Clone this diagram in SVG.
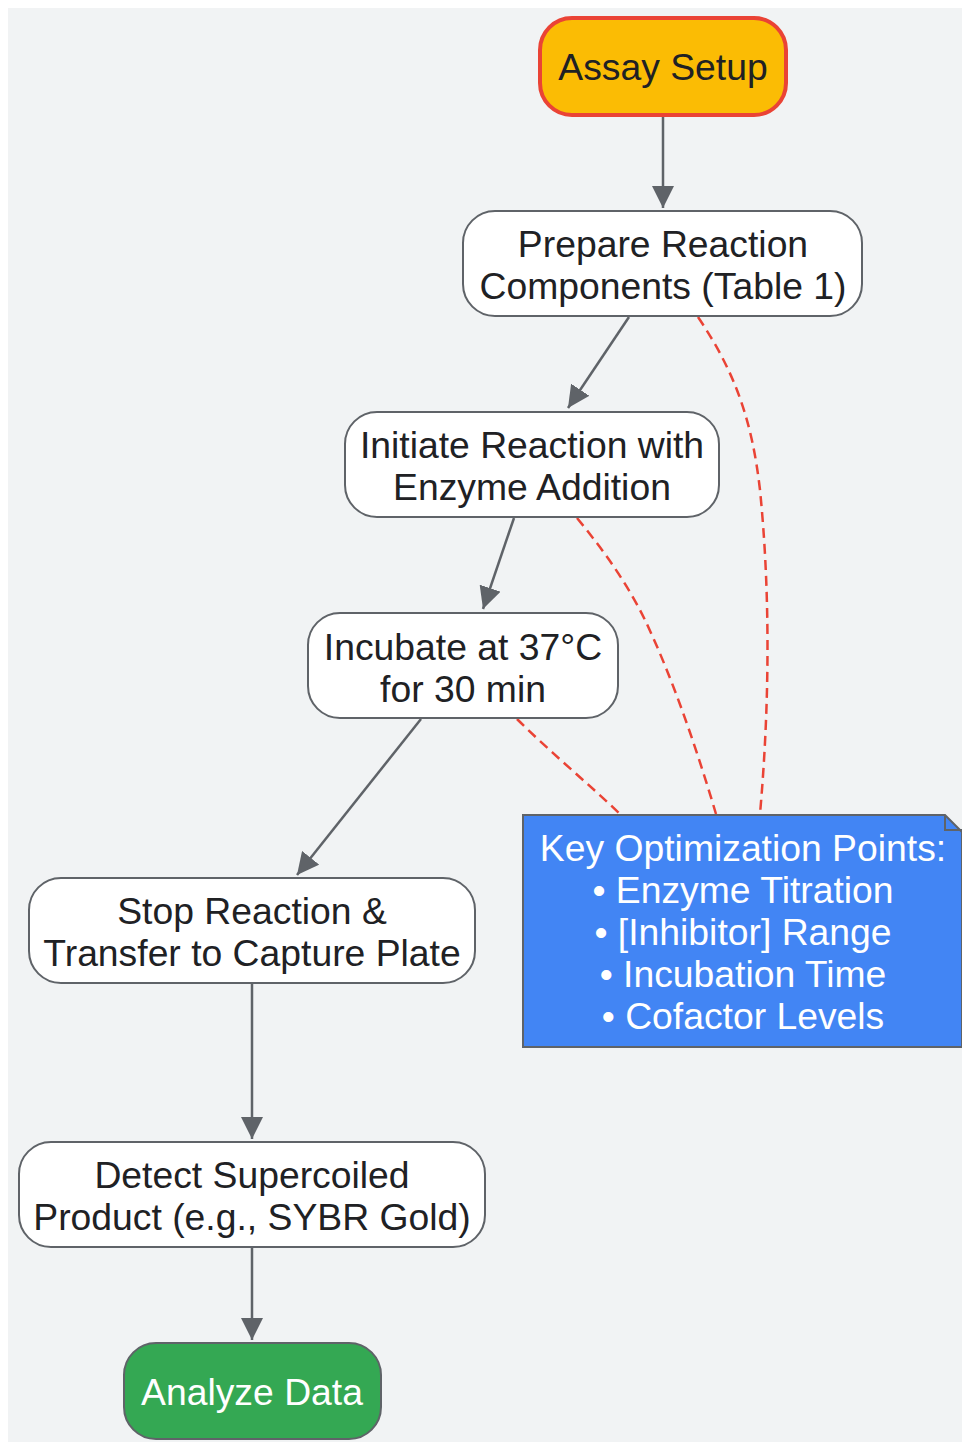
<svg xmlns="http://www.w3.org/2000/svg" width="962" height="1442" viewBox="0 0 962 1442">
<defs>
<style>
.node rect{fill:#FFFFFF;stroke:#5F6368;stroke-width:2}
text{font-family:"Liberation Sans",Arial,sans-serif;font-size:37.3px;fill:#202124;text-anchor:middle;dominant-baseline:central}
.edge{fill:none;stroke:#5F6368;stroke-width:2.5}
.dash{fill:none;stroke:#EA4335;stroke-width:2.5;stroke-dasharray:10,6}
.white{fill:#FFFFFF}
</style>
<marker id="arr" viewBox="0 0 20 20" refX="20" refY="10" markerWidth="22" markerHeight="22" markerUnits="userSpaceOnUse" orient="auto">
<path d="M0,0 L20,10 L0,20 Z" fill="#5F6368"/>
</marker>
</defs>
<rect x="8" y="8" width="954" height="1434" fill="#F1F3F4"/>
<g id="connectors">
<path class="edge" d="M663,116 L663,208" marker-end="url(#arr)"/>
<path class="edge" d="M629,317 L568,408" marker-end="url(#arr)"/>
<path class="edge" d="M514,518 L483,609" marker-end="url(#arr)"/>
<path class="edge" d="M421,719 L297,875" marker-end="url(#arr)"/>
<path class="edge" d="M252,984 L252,1139" marker-end="url(#arr)"/>
<path class="edge" d="M252,1248 L252,1340" marker-end="url(#arr)"/>
<path class="dash" d="M698,317 C735,372 752,420 760,490 C770,590 770,700 760,814"/>
<path class="dash" d="M577,518 C605,552 628,585 645,620 C675,683 700,760 716,814"/>
<path class="dash" d="M517,719 C550,752 590,785 620,814"/>
</g>
<g id="assay-setup">
<rect x="540" y="18" width="246" height="97" rx="32" fill="#FBBC04" stroke="#EA4335" stroke-width="4"/>
<text x="663" y="67">Assay Setup</text>
</g>
<g id="prepare" class="node">
<rect x="463" y="211" width="399" height="105" rx="32"/>
<text x="663" y="244">Prepare Reaction</text>
<text x="663" y="286">Components (Table 1)</text>
</g>
<g id="initiate" class="node">
<rect x="345" y="412" width="374" height="105" rx="32"/>
<text x="532" y="445">Initiate Reaction with</text>
<text x="532" y="487">Enzyme Addition</text>
</g>
<g id="incubate" class="node">
<rect x="308" y="613" width="310" height="105" rx="32"/>
<text x="463" y="647">Incubate at 37°C</text>
<text x="463" y="689">for 30 min</text>
</g>
<g id="stop" class="node">
<rect x="29" y="878" width="446" height="105" rx="32"/>
<text x="252" y="911">Stop Reaction &amp;</text>
<text x="252" y="953">Transfer to Capture Plate</text>
</g>
<g id="detect" class="node">
<rect x="19" y="1142" width="466" height="105" rx="32"/>
<text x="252" y="1175">Detect Supercoiled</text>
<text x="252" y="1217">Product (e.g., SYBR Gold)</text>
</g>
<g id="analyze">
<rect x="124" y="1343" width="257" height="96" rx="32" fill="#34A853" stroke="#5F6368" stroke-width="2"/>
<text x="252" y="1392" class="white">Analyze Data</text>
</g>
<g id="note">
<path d="M523,815 L945,815 L962,832 L962,1047 L523,1047 Z" fill="#4285F4" stroke="#5F6368" stroke-width="2"/>
<path d="M945,815 L945,830 L962,830" fill="none" stroke="#5F6368" stroke-width="2"/>
<text x="743" y="848" class="white">Key Optimization Points:</text>
<text x="743" y="890" class="white">• Enzyme Titration</text>
<text x="743" y="932" class="white">• [Inhibitor] Range</text>
<text x="743" y="974" class="white">• Incubation Time</text>
<text x="743" y="1016" class="white">• Cofactor Levels</text>
</g>
</svg>
